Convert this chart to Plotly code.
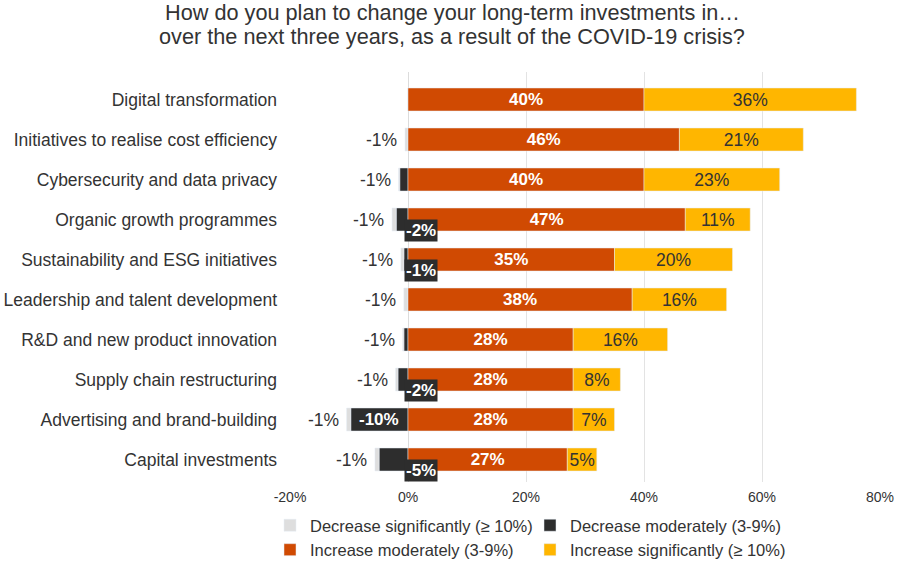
import plotly.graph_objects as go

categories = [
    'Digital transformation',
    'Initiatives to realise cost efficiency',
    'Cybersecurity and data privacy',
    'Organic growth programmes',
    'Sustainability and ESG initiatives',
    'Leadership and talent development',
    'R&D and new product innovation',
    'Supply chain restructuring',
    'Advertising and brand-building',
    'Capital investments',
]

# negative side (labels are the rounded figures shown)
dec_significant = [0, -0.5, -0.2, -0.7, -0.5, -0.7, -0.2, -0.4, -0.7, -0.7]
dec_significant_labels = ['', '-1%', '-1%', '-1%', '-1%', '-1%', '-1%', '-1%', '-1%', '-1%']
dec_moderate = [0, 0, -1.4, -2.0, -0.7, 0, -0.7, -1.7, -9.7, -4.9]
dec_moderate_labels = ['', '', '', '-2%', '-1%', '', '', '-2%', '-10%', '-5%']

inc_moderate = [40, 46, 40, 47, 35, 38, 28, 28, 28, 27]
inc_significant = [36, 21, 23, 11, 20, 16, 16, 8, 7, 5]

tick_vals = [-20, 0, 20, 40, 60, 80]
tick_text = ['-20%', '0%', '20%', '40%', '60%', '80%']

title_lines = [
    'How do you plan to change your long-term investments in…',
    'over the next three years, as a result of the COVID-19 crisis?',
]

LIGHT = '#dedede'
DARK = '#2d2d2d'
ORANGE = '#d04a02'
YELLOW = '#ffb600'
TEXT = '#333333'
FONT = 'Liberation Sans, Arial, sans-serif'

# taller than the window so the legend never pushes the margins
W, H = 900, 600
L, R, T = 290, 20, 72
PLOT_W, PLOT_H = W - L - R, 410
B = H - T - PLOT_H

fig = go.Figure()

fig.add_trace(go.Bar(
    y=categories, x=dec_moderate, orientation='h', name='Decrease moderately (3-9%)',
    marker_color=DARK, legendrank=2, hoverinfo='skip',
))
fig.add_trace(go.Bar(
    y=categories, x=dec_significant, orientation='h', name='Decrease significantly (≥ 10%)',
    marker_color=LIGHT, legendrank=1, hoverinfo='skip',
))
fig.add_trace(go.Bar(
    y=categories, x=inc_moderate, orientation='h', name='Increase moderately (3-9%)',
    marker_color=ORANGE, legendrank=3,
    text=[f'{v}%' for v in inc_moderate], textposition='inside', insidetextanchor='middle',
    textangle=0, textfont=dict(color='white', size=17, family=FONT, weight='bold'),
))
fig.add_trace(go.Bar(
    y=categories, x=inc_significant, orientation='h', name='Increase significantly (≥ 10%)',
    marker_color=YELLOW, legendrank=4,
    text=[f'{v}%' for v in inc_significant], textposition='inside', insidetextanchor='middle',
    textangle=0, textfont=dict(color=TEXT, size=17.5, family=FONT),
))

annotations = []
for cat, d, l, dl, ll in zip(categories, dec_moderate, dec_significant,
                             dec_moderate_labels, dec_significant_labels):
    if ll:
        annotations.append(dict(
            x=d + l, y=cat, text=ll, showarrow=False, xanchor='right', xshift=-6,
            font=dict(size=17.5, color=TEXT, family=FONT),
        ))
    if dl:
        if d <= -8:
            annotations.append(dict(
                x=d / 2, y=cat, text=dl, showarrow=False,
                font=dict(size=17, color='white', family=FONT, weight='bold'),
            ))
        else:
            annotations.append(dict(
                x=0, y=cat, text=dl, showarrow=False, xanchor='left', xshift=-4,
                yshift=-11, bgcolor=DARK, borderpad=1,
                font=dict(size=17, color='white', family=FONT, weight='bold'),
            ))

# title, one annotation per line
for line, ypix in zip(title_lines, [12, 37]):
    annotations.append(dict(
        text=line, xref='paper', yref='paper',
        x=(452 - L) / PLOT_W, y=1 + (T - ypix) / PLOT_H,
        xanchor='center', yanchor='middle', showarrow=False,
        font=dict(size=21.7, color=TEXT, family=FONT),
    ))

fig.update_layout(
    width=W, height=H,
    barmode='relative', bargap=0.425,
    paper_bgcolor='white', plot_bgcolor='white',
    font=dict(family=FONT, color=TEXT),
    margin=dict(l=L, r=R, t=T, b=B),
    xaxis=dict(
        range=[-20, 80], tickmode='array', tickvals=tick_vals, ticktext=tick_text,
        showgrid=True, gridcolor='#e3e3e3', gridwidth=1,
        zeroline=True, zerolinecolor='#dcdcdc', zerolinewidth=1,
        tickfont=dict(size=14, color=TEXT), fixedrange=True, automargin=False,
        ticklabelstandoff=5,
    ),
    yaxis=dict(
        categoryorder='array', categoryarray=categories,
        range=[9.5625, -0.6875], autorange=False,
        ticks='', ticklabelstandoff=12, tickfont=dict(size=17.5, color=TEXT),
        showgrid=False, fixedrange=True, automargin=False,
    ),
    legend=dict(
        orientation='h', x=(530 - L) / PLOT_W, xanchor='center',
        y=-26 / PLOT_H, yanchor='top',
        entrywidth=215, traceorder='normal', itemclick=False,
        font=dict(size=16.5, color=TEXT), tracegroupgap=0,
    ),
    uniformtext=dict(minsize=16, mode='show'),
    annotations=annotations,
    showlegend=True,
)

# drop the default 8px body margin so the figure sits at the window's top-left corner
fig.write_html('out.html', config={'displayModeBar': False},
               post_script="document.body.style.margin='0';")
